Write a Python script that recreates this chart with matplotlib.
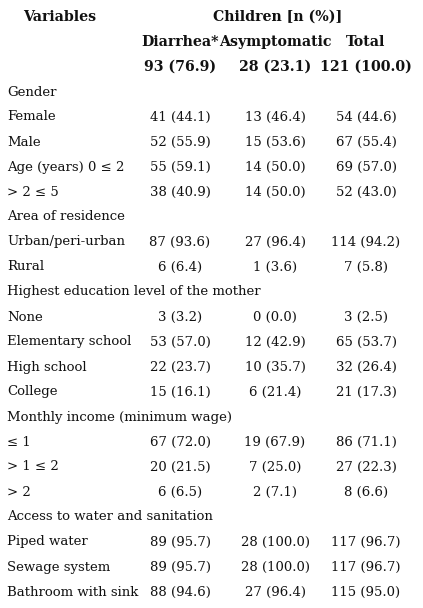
import matplotlib
matplotlib.use("Agg")
import matplotlib.pyplot as plt

labels = ["Gender", "Female", "Male", "Age (years) 0 ≤ 2", "> 2 ≤ 5",
          "Area of residence", "Urban/peri-urban", "Rural",
          "Highest education level of the mother", "None", "Elementary school",
          "High school", "College", "Monthly income (minimum wage)", "≤ 1",
          "> 1 ≤ 2", "> 2", "Access to water and sanitation", "Piped water",
          "Sewage system", "Bathroom with sink"]
diarrhea = ["", "41 (44.1)", "52 (55.9)", "55 (59.1)", "38 (40.9)", "", "87 (93.6)", "6 (6.4)",
            "", "3 (3.2)", "53 (57.0)", "22 (23.7)", "15 (16.1)", "", "67 (72.0)", "20 (21.5)",
            "6 (6.5)", "", "89 (95.7)", "89 (95.7)", "88 (94.6)"]
asymptomatic = ["", "13 (46.4)", "15 (53.6)", "14 (50.0)", "14 (50.0)", "", "27 (96.4)", "1 (3.6)",
                "", "0 (0.0)", "12 (42.9)", "10 (35.7)", "6 (21.4)", "", "19 (67.9)", "7 (25.0)",
                "2 (7.1)", "", "28 (100.0)", "28 (100.0)", "27 (96.4)"]
total = ["", "54 (44.6)", "67 (55.4)", "69 (57.0)", "52 (43.0)", "", "114 (94.2)", "7 (5.8)",
         "", "3 (2.5)", "65 (53.7)", "32 (26.4)", "21 (17.3)", "", "86 (71.1)", "27 (22.3)",
         "8 (6.6)", "", "117 (96.7)", "117 (96.7)", "115 (95.0)"]
col_heads = ["Diarrhea*", "Asymptomatic", "Total"]
col_counts = ["93 (76.9)", "28 (23.1)", "121 (100.0)"]

W, H = 423, 608
fig = plt.figure(figsize=(W / 100, H / 100), dpi=100)
fig.patch.set_facecolor("white")
fam = ["DejaVu Serif", "Liberation Serif"]

def t(x, y, s, ha="left", bold=False):
    fig.text(x / W, 1 - y / H, s, ha=ha, va="center", fontsize=10.2 if bold else 9.5,
             family=fam, fontweight="bold" if bold else "normal", color="#111111")

xs = [180, 275, 366]
t(60, 17, "Variables", "center", True)
t(278, 17, "Children [n (%)]", "center", True)
for x, h, c in zip(xs, col_heads, col_counts):
    t(x, 42, h, "center", True)
    t(x, 67, c, "center", True)
for i, lab in enumerate(labels):
    y = 92 + 25 * i
    t(7, y, lab)
    for x, col in zip(xs, (diarrhea, asymptomatic, total)):
        if col[i]:
            t(x, y, col[i], "center")

fig.savefig("out.png", dpi=100)
